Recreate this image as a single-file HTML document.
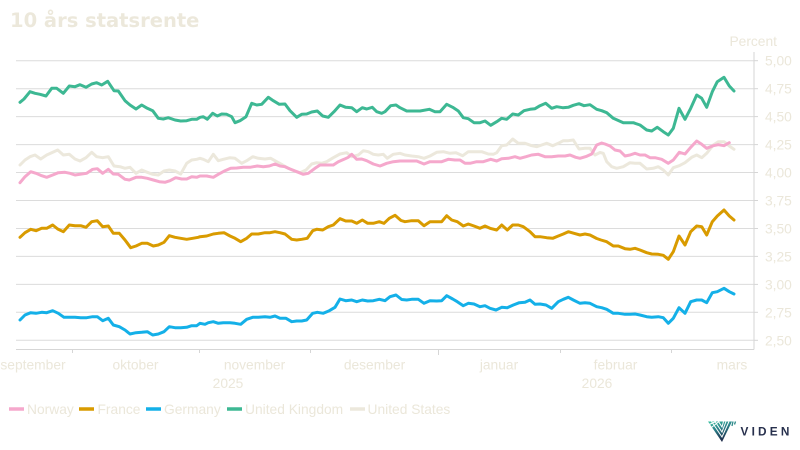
<!DOCTYPE html>
<html><head><meta charset="utf-8">
<style>
html,body{margin:0;padding:0;background:#fff;}
svg{display:block;}
text{font-family:"Liberation Sans",Arial,sans-serif;}
</style></head>
<body>
<svg width="800" height="450" viewBox="0 0 800 450" xmlns="http://www.w3.org/2000/svg">
<rect width="800" height="450" fill="#fff"/>
<text x="10" y="27" font-family="DejaVu Sans, sans-serif" style="font-family:'DejaVu Sans',sans-serif" font-weight="bold" font-size="19.5" fill="#ece8db">10 års statsrente</text>

<!-- gridlines -->
<g stroke="#dcdcdc" stroke-width="1">
<line x1="16" y1="60.7" x2="754" y2="60.7"/>
<line x1="16" y1="88.7" x2="754" y2="88.7"/>
<line x1="16" y1="116.6" x2="754" y2="116.6"/>
<line x1="16" y1="144.6" x2="754" y2="144.6"/>
<line x1="16" y1="172.5" x2="754" y2="172.5"/>
<line x1="16" y1="200.5" x2="754" y2="200.5"/>
<line x1="16" y1="228.5" x2="754" y2="228.5"/>
<line x1="16" y1="256.4" x2="754" y2="256.4"/>
<line x1="16" y1="284.4" x2="754" y2="284.4"/>
<line x1="16" y1="312.3" x2="754" y2="312.3"/>
<line x1="16" y1="340.3" x2="754" y2="340.3"/>
</g>
<!-- axes -->
<g stroke="#d6d6d6" stroke-width="1">
<line x1="754" y1="52" x2="754" y2="349.5"/>
<line x1="16" y1="349.5" x2="754" y2="349.5"/>
<line x1="754" y1="60.7" x2="758" y2="60.7"/>
<line x1="754" y1="88.7" x2="758" y2="88.7"/>
<line x1="754" y1="116.6" x2="758" y2="116.6"/>
<line x1="754" y1="144.6" x2="758" y2="144.6"/>
<line x1="754" y1="172.5" x2="758" y2="172.5"/>
<line x1="754" y1="200.5" x2="758" y2="200.5"/>
<line x1="754" y1="228.5" x2="758" y2="228.5"/>
<line x1="754" y1="256.4" x2="758" y2="256.4"/>
<line x1="754" y1="284.4" x2="758" y2="284.4"/>
<line x1="754" y1="312.3" x2="758" y2="312.3"/>
<line x1="754" y1="340.3" x2="758" y2="340.3"/>
<line x1="72.5" y1="349.5" x2="72.5" y2="353"/>
<line x1="199.5" y1="349.5" x2="199.5" y2="353"/>
<line x1="310.5" y1="349.5" x2="310.5" y2="353"/>
<line x1="438.5" y1="349.5" x2="438.5" y2="355"/>
<line x1="560.5" y1="349.5" x2="560.5" y2="353"/>
<line x1="671.5" y1="349.5" x2="671.5" y2="353"/>
</g>

<!-- y labels -->
<g font-size="13.8" fill="#ebe7da">
<text x="777" y="46" text-anchor="end">Percent</text>
<text x="765" y="65.7">5,00</text>
<text x="765" y="93.7">4,75</text>
<text x="765" y="121.6">4,50</text>
<text x="765" y="149.6">4,25</text>
<text x="765" y="177.5">4,00</text>
<text x="765" y="205.5">3,75</text>
<text x="765" y="233.5">3,50</text>
<text x="765" y="261.4">3,25</text>
<text x="765" y="289.4">3,00</text>
<text x="765" y="317.3">2,75</text>
<text x="765" y="345.3">2,50</text>
</g>
<!-- x labels -->
<g font-size="13.8" fill="#ebe7da" text-anchor="middle">
<text x="33" y="369.5">september</text>
<text x="135.5" y="369.5">oktober</text>
<text x="254.5" y="369.5">november</text>
<text x="374.5" y="369.5">desember</text>
<text x="499" y="369.5">januar</text>
<text x="615.5" y="369.5">februar</text>
<text x="732" y="369.5">mars</text>
<text x="228" y="388">2025</text>
<text x="597" y="388">2026</text>
</g>

<g fill="none" stroke-width="3" stroke-linejoin="round" stroke-linecap="round">
<!-- United States -->
<polyline stroke="#ece8dc" points="20,165 25,160 30,156.7 35,155 40.7,159 46.7,155 51.7,152.7 57.7,150 63.3,155 69.3,154.3 75,159 80,161 86,157.7 91.7,152.3 96.7,156.7 102.7,157.7 108.3,156.7 114,166 120,166.7 125,168.3 130,167.3 136,173.3 141.7,170 147.3,172.3 152.7,174.3 158.3,175 164,171 169.3,170 175,171 180.7,174 186.7,163.3 191.7,160 196.7,159.3 200,158.3 203.3,159.3 208.3,161.7 213.3,154.3 218.3,160.7 223.3,159.3 230,157.7 235,158.3 241.7,163.3 246.7,160.7 252.7,156.7 258.3,158.3 265,159 270.7,158.3 276.7,161.7 282.7,165 288.3,168.3 295,171 300,172.7 306,170 311.7,164 316.7,162.7 321.7,163.3 326.7,161.7 333.3,157.7 340,154 346.7,152.7 351.7,156.7 358.3,155 363.3,150.7 368.3,151.7 373.3,154.3 378.3,155 383.3,154.3 387.3,158.3 393.3,154.3 400,153.3 405,155 411.7,156 418.3,156.7 424,158.3 430,156 436.7,152.3 443.3,151.7 450,153.3 456,152.7 462.7,155.7 468.3,151.7 475,151.7 481.7,151.7 488.3,154 493.3,154.3 496.7,152.7 501.7,145.7 506.7,145 512.7,139 518.3,143.3 525,143.3 531.7,145.7 536.7,146.7 541.7,145 546.7,143.3 552.7,145.7 558.3,143.3 563.3,140.7 568.3,140.7 573.3,140 579,149 585,148.3 590,148.3 595,155 600,152.5 603.3,153.3 606.7,161.7 611.7,166.7 616.7,168.3 623.3,166.7 630,162.7 635,163.3 640,163.3 646.7,169 653.3,168.3 658.3,166.7 663.3,170 668.3,175 673.3,167.7 679.3,165.7 685,162.7 691.7,157.3 696.7,155 701.7,157.7 706.7,153.3 713.3,145 718.3,141.7 724,141.7 729.3,146 734,149.3"/>
<!-- Norway -->
<polyline stroke="#f5a8cc" points="20,182.7 25,176.7 30.7,171.7 36,173.3 41.7,175.7 46.7,177.3 52.7,175 58.3,172.7 65,172.3 70,173.3 75,175 81.7,174 86.7,173.3 92.7,169.3 97.3,168.7 102.7,173.3 108.3,169.3 113.3,174 118.3,174.3 125,179.3 129.3,180 136,177.3 141.7,177.3 147.3,178.3 153.3,180 159.3,181.7 165,182.3 170,180.7 175.7,177.7 181.7,179 186.7,179 191.7,176.7 196.7,177.3 200,176 206.7,176 213.3,177.3 218.3,174.3 225,170.7 230.7,168.3 236.7,168 243.3,167.3 250,167.3 257.3,166 263.3,166.7 269.3,166 275,164 280,166 285,166.7 290,169 296.7,171.7 303.3,174.3 308.3,173.3 315,168.3 320,165 326.7,165 333.3,165 338.3,161.7 344,159.3 348.3,157.3 351.7,154.3 356.7,159.3 361.7,159 366.7,160.7 373.3,164 380,166 386.7,163.3 393.3,161.7 400,161 408.3,161 416.7,161 424,164 430,161.7 436.7,161.7 441.7,161.7 448.3,159.3 455,160 460,160 465,163.3 470,163.3 476.7,161.7 483.3,161.7 490.7,159.3 496.7,161 501.7,158.7 508.3,158.3 515,156.7 520,158.3 526,156.7 531.7,155 538.3,154.3 545,156.7 551.7,156.7 558.3,156 565,156 570,155 575.7,157.3 580,158.3 586.7,156.3 591.7,154 596.7,145 601.7,143 605,144 610,146 615,150 620,151 625,156 630,155 635,153.3 640,155 645,155 650,157.7 655,157.7 661.7,159.3 668.3,163.3 673.3,160 679.3,152.3 685,154 690.7,147.3 696.7,141 701.7,144.3 706.7,148.3 713.3,145.7 718.3,144.7 724,145.7 729.3,142.7"/>
<!-- United Kingdom -->
<polyline stroke="#3db893" points="20,102.3 24,99 30,91.7 35,93.3 40,94.3 46,96 51.7,88.3 56.7,88.3 63.3,93.3 69.3,86 75,86.7 80,84.7 86,87.3 91.7,84 96.7,82.7 101.7,85 107.7,81.3 114,90.7 118.3,91 125,100.7 130,105 136,109 141.7,105 147.3,108.3 152.7,110.7 158.3,118.3 163.3,119 168.3,117.7 175,120 180.7,121 186.7,120.7 191.7,119.3 196.7,119.3 200,117.3 203.3,116.7 207.3,119.3 212.7,113.3 217.3,116 221.7,114 226.7,114.3 231.7,116.7 235,122.7 240,120.7 246,116.7 251.7,103.3 256.7,105 261.7,104.3 268.3,97.3 273.3,100.7 279.3,104.3 285,104 290,110.7 296.7,117.3 301.7,114.3 306.7,114 311.7,112 317.3,111 322.7,116 328.3,117.3 334,111.7 340,105 345.7,107.3 351.7,107.7 356.7,111.7 362.3,107.7 366.7,109 372.3,107.3 376.7,111.7 381.7,113.3 385,111.7 390.7,105.7 396,105 400,107.7 406.7,111 413.3,111 420,111 429.3,109.3 435,111.7 440,111.7 446.7,104.3 452.7,107.3 458.3,111 463.3,117.7 468.3,118.7 474,122.7 480,122.7 485,121 490.7,125.3 496.7,121.7 501.7,118.3 506.7,119.3 512.7,114 518.3,115 524,110.7 530,109.3 535,108.7 540,105.7 545.7,103.3 551.7,108.3 556.7,106.7 562.7,107.7 568.3,107.3 573.3,105.3 579,103.7 584,105.7 590,104.7 596.7,109.3 601.7,110.7 606.7,112.7 613.3,118.3 623.3,122.7 633.3,122.7 640,125 646.7,130 651.7,131 657.3,127.3 663.3,131.7 668.3,135 673.3,128.3 679,108.3 685,119.3 690.7,108.3 696.7,95 701.7,98.3 706.7,107.3 712.3,91.7 717.3,81.7 724,77.3 729.3,86 734,91"/>
<!-- France -->
<polyline stroke="#d99b00" points="20,237.3 25,232.7 30.7,229.3 36,230.7 41.7,228.3 46.7,228.3 52.7,225 57.7,229 63.3,231.7 69.3,225 75,225.7 80.7,225.7 86,227.3 91.7,221.7 97.3,220.7 102.7,226.7 108.3,226 113.3,233.3 119.3,233.3 125,240 130.7,247.7 136,246 141.7,243.3 147.3,243.3 153.3,246 158.3,245 164,242.3 169.3,235.7 175,237.3 180.7,238.3 186.7,239.3 192.7,238.3 198.3,237.3 200,236.7 206.7,236 213.3,234 218.3,233.3 224,232.7 230,236 235,238.3 240.7,241.7 246.7,238.3 251.7,234 258.3,234 265,232.7 270,232.7 275,231.7 280,232.7 285,234 291.7,239.3 296.7,240 301.7,239.3 307.3,238.3 312.7,230.7 316.7,229.3 322.7,230 328.3,226.7 333.3,225 340,218.7 345.7,221 351.7,221 356.7,223.3 362.3,220 367.7,223.3 373.3,223.3 379.3,221.7 384,223.3 389.3,218.3 395,215.3 401,220.5 405,221.7 411.7,220.7 418.3,220.7 424,225.7 430,221.7 436.7,221.7 441.7,221.7 446.7,215.7 451.7,220 457.3,221.7 463.3,226 468.3,224 474,226 480,228.3 485,226 490,228.3 496.7,230 501.7,225 507.3,230 512.7,225 518.3,225 523.3,226.7 530,231.7 535,236.7 540,236.7 546.7,237.7 552.7,238.3 558.3,236 563.3,234 568.3,231.7 574,233.3 580,235 585,234 590,235 596.7,238.5 601,240 606.7,241.7 613.3,246 618.3,246 625,248.7 630,249.3 635,248.3 640,250 646.7,252.7 651.7,254 658.3,254.3 663.3,255.3 668.3,259.3 673.3,251.7 679,236 685,245 690.7,231.7 696.7,226 701.7,226.7 706.7,235 712.3,221.7 717.3,216 724,210 729.3,216 734,220"/>
<!-- Germany -->
<polyline stroke="#14b0e8" points="20,320 25,315 30.7,312.7 36,313.3 41.7,312.3 46.7,312.7 52.7,310.7 58.3,313.3 64,317.3 70,317.3 75,317.3 80.7,317.7 86.7,317.7 92.7,316.7 97.3,316.7 102.7,320.7 108.3,318.3 113.3,325 119.3,326.7 125,330 130,334 136,332.7 141.7,332.3 147.3,331.7 152.7,335 158.3,334 164,331.7 169.3,326.7 175,327.7 180.7,327.7 186.7,327.3 191.7,325.7 196.7,325.7 200,323.3 205,324.3 208.3,322.7 213.3,321.7 218.3,323.3 223.3,322.7 230,322.7 235,323.3 240.7,324.3 246.7,319.3 252.7,317.3 258.3,317.3 265,316.7 270,317.3 275,316 280,318.3 286,318.3 291.7,321.7 296.7,321 301.7,321 306.7,320 312.7,313.3 317.3,312.3 323.3,313.3 329.3,310.7 335,307.3 340,299 345.7,300.7 351.7,300 356.7,301.7 362.3,300 367.7,301 373.3,300.7 379.3,299.3 385,300.7 390,296.7 396,295 401.7,299.5 406.7,300 411.7,299.3 418.3,299.3 424,303.3 430,300.7 436.7,301 441.7,300.7 446.7,295.7 452.7,299 457.3,301.7 463.3,305.7 468.3,303.3 474,304 480,306.7 485,305.7 490,308.3 496,310 501.7,307.3 507.3,307.7 513.3,305 519.3,302.7 525,302.3 530,300 535,304.3 540,304 546,305 551.7,308.3 558.3,301.7 563.3,299.3 568.3,297.3 573.3,300 580,303.3 585,302.7 590,303.3 596.7,306.7 601.7,307.7 606.7,309.3 613.3,313.3 618.3,313.3 625,314.3 630,314.3 635,314 640,315 646.7,316.7 651.7,317.3 658.3,316.7 663.3,317.7 668.3,323.3 673.3,318.3 679,307.7 685,313.3 690.7,301.7 696.7,300 701.7,300 706.7,302.7 712.3,292.7 717.3,291.7 724,288.3 729.3,291.7 734,294"/>
</g>

<!-- legend -->
<g stroke-width="3.5">
<line x1="9" y1="409" x2="24" y2="409" stroke="#f5a8cc"/>
<line x1="79" y1="409" x2="94" y2="409" stroke="#d99b00"/>
<line x1="146" y1="409" x2="161" y2="409" stroke="#14b0e8"/>
<line x1="227" y1="409" x2="242" y2="409" stroke="#3db893"/>
<line x1="350" y1="409" x2="365" y2="409" stroke="#ece8dc"/>
</g>
<g font-size="13.8" fill="#ebe7da">
<text x="27" y="414">Norway</text>
<text x="97.5" y="414">France</text>
<text x="164" y="414">Germany</text>
<text x="245" y="414">United Kingdom</text>
<text x="367.5" y="414">United States</text>
</g>

<!-- logo -->
<defs>
<linearGradient id="lg" x1="0" y1="0" x2="0.4" y2="1">
<stop offset="0" stop-color="#3cc3a3"/>
<stop offset="0.45" stop-color="#2a8088"/>
<stop offset="1" stop-color="#1e2b4a"/>
</linearGradient>
</defs>
<polygon points="708,421.5 732,421.5 722,442" fill="url(#lg)"/>
<g fill="none" stroke="#fff" stroke-width="1">
<polyline points="711.5,421.5 722,437 729,421.5"/>
<polyline points="715,421.5 722,432 726,421.5"/>
<polyline points="718.5,421.5 722,427 723.5,421.5"/>
<line x1="708" y1="425" x2="716" y2="421.5"/>
<line x1="709.5" y1="429" x2="719" y2="421.5"/>
</g>
<g stroke="#2f8a8a" stroke-width="1.3">
<line x1="733" y1="421.5" x2="732" y2="426"/>
<line x1="735.5" y1="421.5" x2="734.5" y2="424.5"/>
</g>
<text x="740.5" y="435.5" font-size="11.8" font-weight="600" letter-spacing="3.2" fill="#27304d">VIDEN</text>
</svg>
</body></html>
